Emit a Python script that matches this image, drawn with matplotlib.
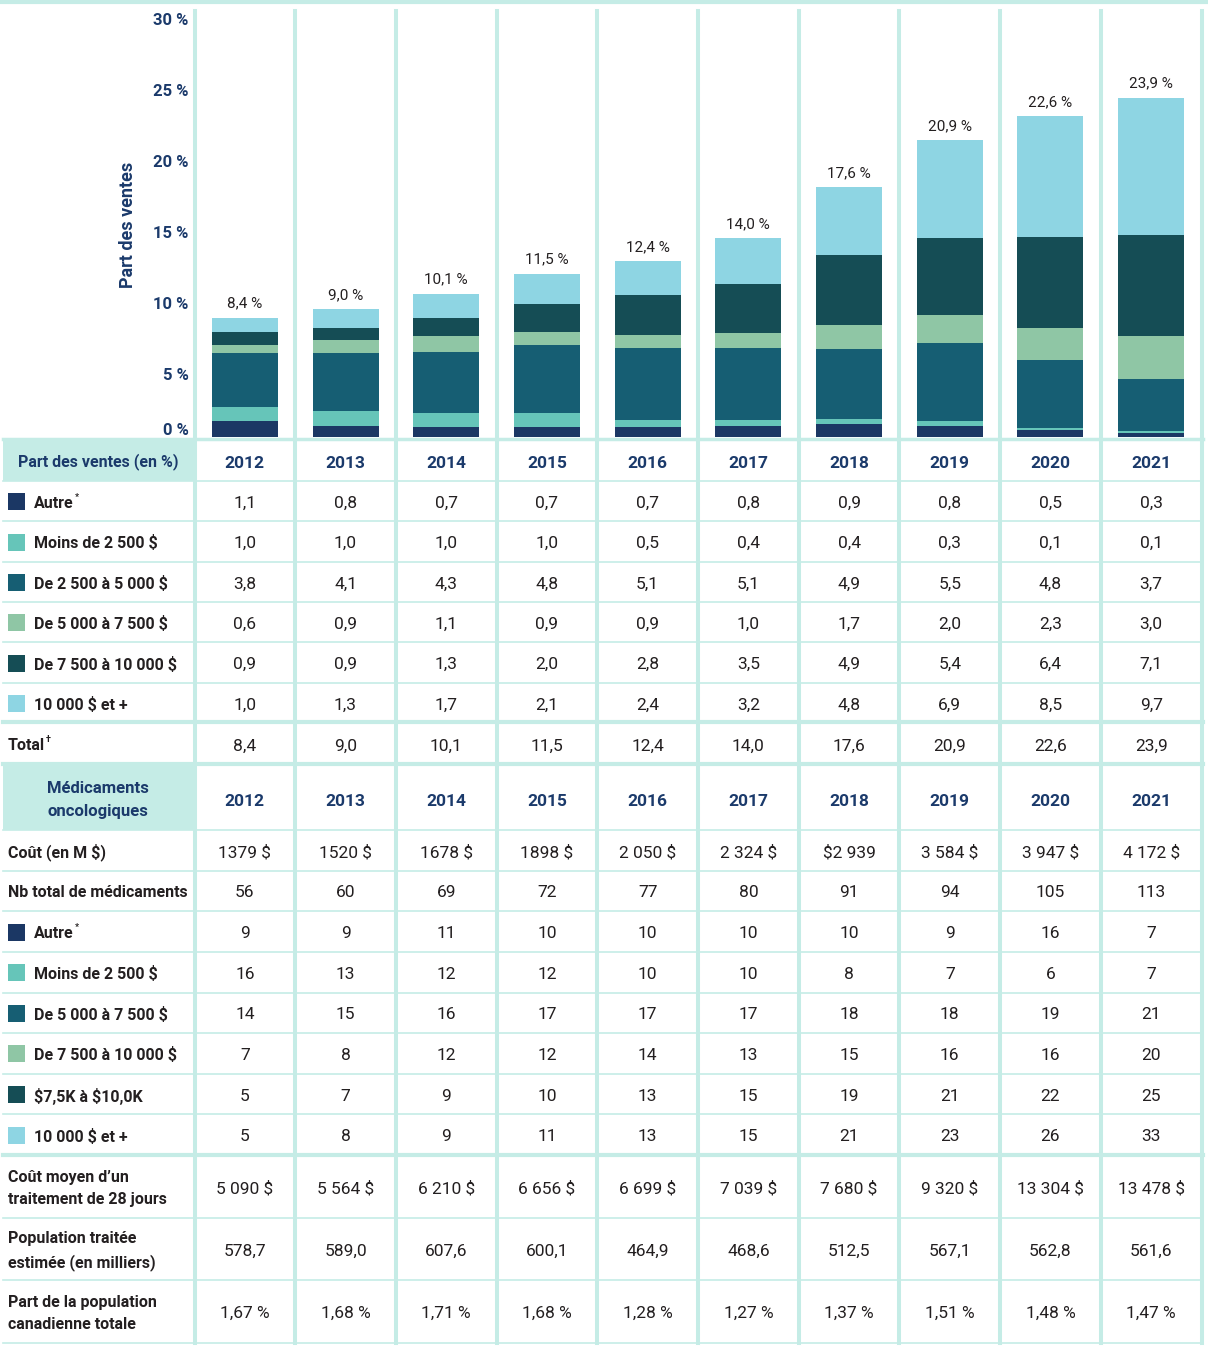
import matplotlib
matplotlib.use('Agg')
import matplotlib.pyplot as plt
import numpy as np
from matplotlib import font_manager
from matplotlib.patches import Rectangle
from matplotlib.transforms import offset_copy

years = ['2012', '2013', '2014', '2015', '2016', '2017', '2018', '2019', '2020', '2021']

# Part des ventes (en %)
share_labels = ['Autre', 'Moins de 2 500 $', 'De 2 500 à 5 000 $', 'De 5 000 à 7 500 $',
                'De 7 500 à 10 000 $', '10 000 $ et +']
autre = [1.1, 0.8, 0.7, 0.7, 0.7, 0.8, 0.9, 0.8, 0.5, 0.3]
moins_2500 = [1.0, 1.0, 1.0, 1.0, 0.5, 0.4, 0.4, 0.3, 0.1, 0.1]
de_2500_5000 = [3.8, 4.1, 4.3, 4.8, 5.1, 5.1, 4.9, 5.5, 4.8, 3.7]
de_5000_7500 = [0.6, 0.9, 1.1, 0.9, 0.9, 1.0, 1.7, 2.0, 2.3, 3.0]
de_7500_10000 = [0.9, 0.9, 1.3, 2.0, 2.8, 3.5, 4.9, 5.4, 6.4, 7.1]
plus_10000 = [1.0, 1.3, 1.7, 2.1, 2.4, 3.2, 4.8, 6.9, 8.5, 9.7]
total = [8.4, 9.0, 10.1, 11.5, 12.4, 14.0, 17.6, 20.9, 22.6, 23.9]

# Médicaments oncologiques
cout = ['1379 $', '1520 $', '1678 $', '1898 $', '2 050 $', '2 324 $', '$2 939', '3 584 $', '3 947 $', '4 172 $']
nb_total = [56, 60, 69, 72, 77, 80, 91, 94, 105, 113]
nb_labels = ['Autre', 'Moins de 2 500 $', 'De 5 000 à 7 500 $', 'De 7 500 à 10 000 $',
             '$7,5K à $10,0K', '10 000 $ et +']
nb_autre = [9, 9, 11, 10, 10, 10, 10, 9, 16, 7]
nb_moins_2500 = [16, 13, 12, 12, 10, 10, 8, 7, 6, 7]
nb_5000_7500 = [14, 15, 16, 17, 17, 17, 18, 18, 19, 21]
nb_7500_10000 = [7, 8, 12, 12, 14, 13, 15, 16, 16, 20]
nb_75k_10k = [5, 7, 9, 10, 13, 15, 19, 21, 22, 25]
nb_plus_10000 = [5, 8, 9, 11, 13, 15, 21, 23, 26, 33]
cout_moyen = ['5 090 $', '5 564 $', '6 210 $', '6 656 $', '6 699 $', '7 039 $', '7 680 $', '9 320 $', '13 304 $', '13 478 $']
population = ['578,7', '589,0', '607,6', '600,1', '464,9', '468,6', '512,5', '567,1', '562,8', '561,6']
part_pop = ['1,67 %', '1,68 %', '1,71 %', '1,68 %', '1,28 %', '1,27 %', '1,37 %', '1,51 %', '1,48 %', '1,47 %']

colors = ['#1b3764', '#66c5b9', '#165e73', '#8fc6a5', '#154d55', '#8ed5e3']
line_c = '#c5ece6'
navy = '#1b3a6b'
dark = '#231f20'

plt.rcParams['text.parse_math'] = False
names = {f.name for f in font_manager.fontManager.ttflist}
if 'Liberation Sans Narrow' in names:
    plt.rcParams['font.family'] = ['Liberation Sans Narrow', 'DejaVu Sans']
    fs, fv = 13, 13.5
else:
    plt.rcParams['font.family'] = ['Roboto', 'DejaVu Sans']
    fs, fv = 11.5, 12.5

W, H = 1208, 1355
fig = plt.figure(figsize=(W / 100, H / 100), dpi=100)

# overlay in pixel coordinates for the table
tb = fig.add_axes([0, 0, 1, 1])
tb.set_xlim(0, W)
tb.set_ylim(H, 0)
tb.axis('off')

x0, x1 = 194.5, 1201.5
cw = (x1 - x0) / 10
y_base, y_top = 437, 11
dt = 2  # small downward nudge for table text

# bar chart
ax = fig.add_axes([x0 / W, 1 - y_base / H, (x1 - x0) / W, (y_base - y_top) / H])
ax.set_xlim(-0.5, 9.5)
ax.set_ylim(0, 30)
ax.patch.set_alpha(0)
ax.axis('off')

series = [autre, moins_2500, de_2500_5000, de_5000_7500, de_7500_10000, plus_10000]
x = np.arange(len(years))
bottom = np.zeros(len(years))
for vals, col in zip(series, colors):
    ax.bar(x, vals, 0.655, bottom=bottom, color=col, zorder=3)
    bottom += np.array(vals)
for i, t in enumerate(total):
    ax.annotate(f'{t:.1f} %'.replace('.', ','), (i, bottom[i]), xytext=(0, 5),
                textcoords='offset points', ha='center', va='bottom', fontsize=fv - 1.5, color=dark)

for v in range(0, 31, 5):
    dy = 7 if v == 0 else -9
    tr = offset_copy(ax.get_yaxis_transform(), fig=fig, x=-6, y=dy, units='dots')
    ax.text(0, v, f'{v} %', transform=tr, ha='right', va='center', fontsize=fs + 0.5,
            fontweight='bold', color=navy, clip_on=False)
tb.text(128, 225, 'Part des ventes', rotation=90, ha='center', va='center',
        fontsize=fs + 1.5, fontweight='bold', color=navy)

# table structure
cx = [x0 + (i + 0.5) * cw for i in range(10)]
tb.add_patch(Rectangle((3, 440), 190, 41, color=line_c, lw=0))
tb.add_patch(Rectangle((3, 765), 190, 65, color=line_c, lw=0))

tb.plot([0, W], [1.5, 1.5], color=line_c, lw=3)
tb.plot([3, 1203], [438.5, 438.5], color=line_c, lw=2.5)

rows1 = np.linspace(481, 723, 7)
rows2 = np.linspace(830, 1155, 9)
rows3 = np.linspace(1155, 1343, 4)
for y in list(rows1[:-1]) + list(rows2[:-1]) + list(rows3[1:]):
    tb.plot([3, 1203], [y, y], color=line_c, lw=1.2)
for y in [722, 764, 1155]:
    tb.plot([3, 1203], [y, y], color=line_c, lw=3)
for k in range(11):
    xv = x0 + k * cw
    tb.plot([xv, xv], [y_top, 1343], color=line_c, lw=2.9, zorder=1)

renderer = fig.canvas.get_renderer()


def label(y, text, col=None, sup=None):
    xt = 8
    if col is not None:
        tb.add_patch(Rectangle((8, y - 8), 17, 17, color=col, lw=0))
        xt = 34
    t = tb.text(xt, y + dt, text, ha='left', va='center', fontsize=fs, fontweight='bold',
                color=dark, linespacing=1.55)
    if sup:
        bb = t.get_window_extent(renderer)
        tb.text(xt + bb.width + 1, y + dt - 6, sup, ha='left', va='center', fontsize=fs - 5,
                fontweight='bold', color=dark)


def row(y, vals):
    for xc, v in zip(cx, vals):
        tb.text(xc, y + dt, str(v), ha='center', va='center', fontsize=fv, color=dark)


# section 1
tb.text(98, 462, 'Part des ventes (en %)', ha='center', va='center', fontsize=fs,
        fontweight='bold', color=navy)
for xc, yr in zip(cx, years):
    tb.text(xc, 463, yr, ha='center', va='center', fontsize=fv, fontweight='bold', color=navy)
mid1 = (rows1[:-1] + rows1[1:]) / 2
for y, lab, col, vals in zip(mid1, share_labels, colors, series):
    label(y, lab, col, '*' if lab == 'Autre' else None)
    row(y, [f'{v:.1f}'.replace('.', ',') for v in vals])
label(744, 'Total', sup='†')
row(744, [f'{v:.1f}'.replace('.', ',') for v in total])

# section 2
tb.text(98, 800, 'Médicaments\noncologiques', ha='center', va='center', fontsize=fs + 0.5,
        fontweight='bold', color=navy, linespacing=1.6)
for xc, yr in zip(cx, years):
    tb.text(xc, 801, yr, ha='center', va='center', fontsize=fv, fontweight='bold', color=navy)
mid2 = (rows2[:-1] + rows2[1:]) / 2
label(mid2[0], 'Coût (en M $)')
row(mid2[0], cout)
label(mid2[1], 'Nb total de médicaments')
row(mid2[1], nb_total)
nb_series = [nb_autre, nb_moins_2500, nb_5000_7500, nb_7500_10000, nb_75k_10k, nb_plus_10000]
for y, lab, col, vals in zip(mid2[2:], nb_labels, colors, nb_series):
    label(y, lab, col, '*' if lab == 'Autre' else None)
    row(y, vals)

mid3 = (rows3[:-1] + rows3[1:]) / 2
label(mid3[0], 'Coût moyen d’un\ntraitement de 28 jours')
row(mid3[0], cout_moyen)
label(mid3[1], 'Population traitée\nestimée (en milliers)')
row(mid3[1], population)
label(mid3[2], 'Part de la population\ncanadienne totale')
row(mid3[2], part_pop)

fig.savefig('out.png', dpi=100)
